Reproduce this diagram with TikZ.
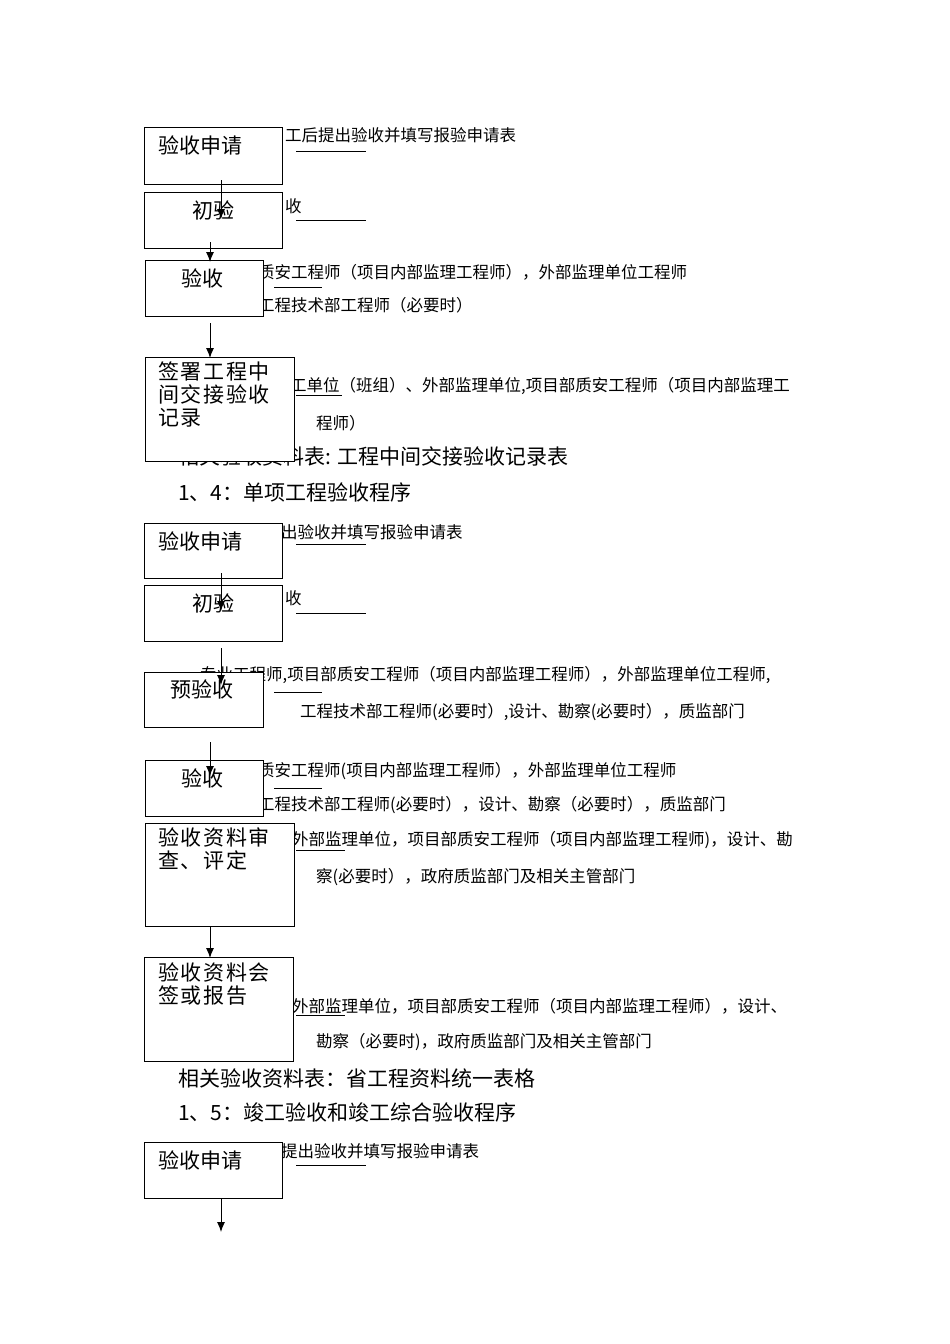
\documentclass[tikz,border=0pt]{standalone}
\usepackage{fontspec}
\usetikzlibrary{arrows.meta}
\setmainfont{Noto Sans CJK SC}
\newfontfamily\spfont[LetterSpace=8]{Noto Sans CJK SC}
\begin{document}
\begin{tikzpicture}[x=1pt,y=-1pt,
  bx/.style={draw,line width=0.9pt,fill=white},
  big/.style={font=\fontsize{21}{24}\selectfont,inner sep=0,anchor=west},
  sp/.style={inner sep=0,anchor=north west,align=left,font=\spfont\fontsize{21}{23}\selectfont},
  sm/.style={font=\fontsize{16.5}{18}\selectfont,inner sep=0,anchor=west},
  ul/.style={line width=0.7pt},
  ar/.style={-{Latex[length=10pt,width=8pt]},line width=1pt}]
\useasboundingbox[fill=white] (0,0) rectangle (950,1344);
% ---- section 1
\node[sm] (t1) at (285,135) {工后提出验收并填写报验申请表};
\node[sm] (t2) at (285,206) {收};
\node[sm] (t3) at (258,272) {质安工程师（项目内部监理工程师），外部监理单位工程师};
\node[sm] (t4) at (258,305) {工程技术部工程师（必要时）};
\node[sm] (t5) at (290,386) {工单位（班组）、外部监理单位,项目部质安工程师（项目内部监理工};
\node[sm] (t6) at (316,423) {程师）};
\node[big] (h0) at (178,456) {相关验收资料表: 工程中间交接验收记录表};
\node[big] (h1) at (178,492) {1、4：单项工程验收程序};
\draw[bx] (144,127) rectangle (282,184); \node[big] (b1) at (158,145) {验收申请};
\draw[bx] (144,192) rectangle (282,248); \node[big] (b2) at (192,210) {初验};
\draw[bx] (145,260) rectangle (263,316); \node[big] (b3) at (181,278) {验收};
\draw[bx] (145,357) rectangle (294,461);
\node[sp] (b4) at (158,362) {签署工程中\\间交接验收\\记录};
\coordinate (a1s) at (221,180); \coordinate (a1e) at (221,219);
\coordinate (a2s) at (210,242); \coordinate (a2e) at (210,262);
\coordinate (a3s) at (210,323); \coordinate (a3e) at (210,358);
\draw[ar] (a1s) -- (a1e); \draw[ar] (a2s) -- (a2e); \draw[ar] (a3s) -- (a3e);
\draw[ul] (296,151) -- (366,151); \draw[ul] (296,220) -- (366,220);
\draw[ul] (274,287) -- (322,287); \draw[ul] (296,395) -- (342,395);
% ---- section 2
\node[sm] (s1) at (281,532) {出验收并填写报验申请表};
\node[sm] (s2) at (285,598) {收};
\node[sm] (s3) at (200,675) {专业工程师,项目部质安工程师（项目内部监理工程师），外部监理单位工程师,};
\node[sm] (s4) at (300,712) {工程技术部工程师(必要时）,设计、勘察(必要时），质监部门};
\node[sm] (s5) at (258,771) {质安工程师(项目内部监理工程师），外部监理单位工程师};
\node[sm] (s6) at (258,805) {工程技术部工程师(必要时），设计、勘察（必要时），质监部门};
\node[sm] (s7) at (292,840) {外部监理单位，项目部质安工程师（项目内部监理工程师)，设计、勘};
\node[sm] (s8) at (316,877) {察(必要时），政府质监部门及相关主管部门};
\node[sm] (s9) at (292,1006) {外部监理单位，项目部质安工程师（项目内部监理工程师），设计、};
\node[sm] (s10) at (316,1042) {勘察（必要时)，政府质监部门及相关主管部门};
\draw[bx] (144,523) rectangle (282,578); \node[big] (c1) at (158,541) {验收申请};
\draw[bx] (144,585) rectangle (282,641); \node[big] (c2) at (192,603) {初验};
\draw[bx] (144,672) rectangle (263,727); \node[big] (c3) at (170,689) {预验收};
\draw[bx] (145,760) rectangle (263,816); \node[big] (c4) at (181,778) {验收};
\draw[bx] (145,823) rectangle (294,926);
\node[sp] (c5) at (158,828) {验收资料审\\查、评定};
\draw[bx] (144,957) rectangle (293,1061);
\node[sp] (c6) at (158,962) {验收资料会\\签或报告};
\coordinate (d1s) at (221,573); \coordinate (d1e) at (221,611);
\coordinate (d2s) at (221,648); \coordinate (d2e) at (221,685);
\coordinate (d3s) at (210,742); \coordinate (d3e) at (210,776);
\coordinate (d4s) at (210,926); \coordinate (d4e) at (210,958);
\draw[ar] (d1s) -- (d1e); \draw[ar] (d2s) -- (d2e); \draw[ar] (d3s) -- (d3e); \draw[ar] (d4s) -- (d4e);
\draw[ul] (296,544) -- (366,544); \draw[ul] (296,613) -- (366,613);
\draw[ul] (274,692) -- (322,692); \draw[ul] (274,788) -- (322,788);
\draw[ul] (296,850) -- (345,850); \draw[ul] (296,1015) -- (345,1015);
\node[big] (h2) at (178,1078) {相关验收资料表：省工程资料统一表格};
\node[big] (h3) at (178,1112) {1、5：竣工验收和竣工综合验收程序};
% ---- section 3
\node[sm] (u1) at (281,1151) {提出验收并填写报验申请表};
\draw[bx] (144,1142) rectangle (282,1198); \node[big] (e1) at (158,1160) {验收申请};
\draw[ul] (296,1165) -- (366,1165);
\coordinate (f1s) at (221,1198); \coordinate (f1e) at (221,1232);
\draw[ar] (f1s) -- (f1e);
\end{tikzpicture}
\end{document}
